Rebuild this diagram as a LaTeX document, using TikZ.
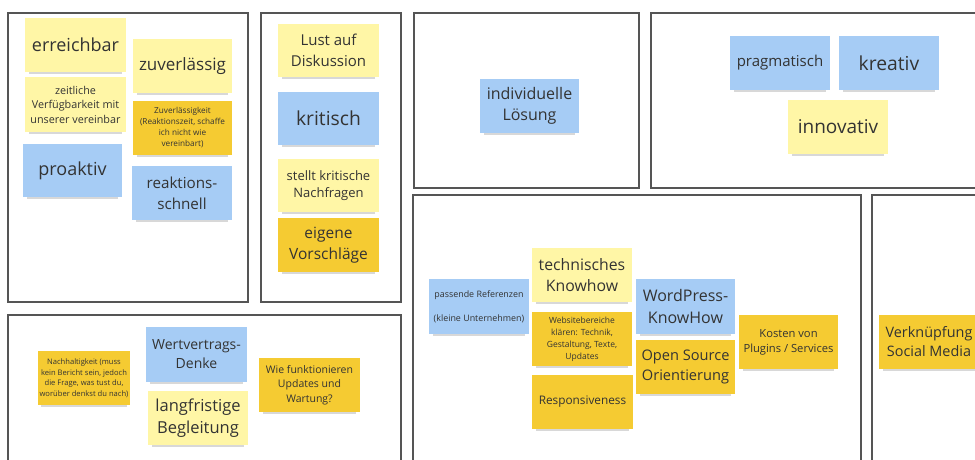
\documentclass[tikz,border=0pt]{standalone}
\usepackage{fontspec}
\setmainfont{Open Sans}
\usetikzlibrary{shadows}
\definecolor{ly}{HTML}{FFF6A6}
\definecolor{dy}{HTML}{F5CB32}
\definecolor{bl}{HTML}{A6CCF5}
\definecolor{frm}{HTML}{555555}
\definecolor{txt}{HTML}{333333}
\tikzset{
  frame/.style={draw=frm, line width=1.3pt},
  note/.style={rectangle, inner sep=2pt, align=center, text=txt,
    drop shadow={shadow xshift=0pt, shadow yshift=-5pt, opacity=.3, shadow scale=0.92}},
}
\newcommand\stickynote[9]{%
  \node[note, fill=#6, minimum width={#4pt-#2pt}, minimum height={#5pt-#3pt},
    font=\fontsize{#7}{#8}\selectfont]
    (#1) at ({(#2+#4)/2},{(#3+#5)/2}) {#9};}
\begin{document}
\begin{tikzpicture}[x=1pt,y=-1pt]
\useasboundingbox (0,0) rectangle (975,459);
\clip (0,0) rectangle (975,459);
\fill[white] (0,0) rectangle (975,459);
% frames
\draw[frame] (8,13) rectangle (248,302);
\draw[frame] (261,13) rectangle (401,302);
\draw[frame] (8,315) rectangle (401,470);
\draw[frame] (414,13) rectangle (639,188);
\draw[frame] (651,13) rectangle (990,188);
\draw[frame] (413,195) rectangle (861,470);
\draw[frame] (872,195) rectangle (990,470);
% frame 1
\stickynote{erreichbar}{25}{18}{126}{72}{ly}{18}{24}{erreichbar}
\stickynote{zeitlich}{25}{77}{126}{132}{ly}{10.8}{14.5}{zeitliche\\Verfügbarkeit mit\\unserer vereinbar}
\stickynote{zuverl}{133}{39}{232}{93}{ly}{17}{23}{zuverlässig}
\stickynote{zuverlk}{133}{101}{232}{155}{dy}{8.2}{11}{Zuverlässigkeit\\(Reaktionszeit, schaffe\\ich nicht wie\\vereinbart)}
\stickynote{proaktiv}{23}{144}{122}{197}{bl}{18}{24}{proaktiv}
\stickynote{reaktion}{132}{166}{232}{220}{bl}{15.2}{21}{reaktions-\\schnell}
% frame 2
\stickynote{lust}{278}{24}{379}{77}{ly}{15}{20.5}{Lust auf\\Diskussion}
\stickynote{kritisch}{278}{92}{379}{145}{bl}{19.3}{25}{kritisch}
\stickynote{nachfragen}{278}{159}{379}{212}{ly}{13}{17.5}{stellt kritische\\Nachfragen}
\stickynote{vorschlaege}{278}{218}{379}{272}{dy}{15.5}{21}{eigene\\Vorschläge}
% frame 3
\stickynote{nachhalt}{38}{351}{130}{405}{dy}{7.6}{10.5}{Nachhaltigkeit (muss\\kein Bericht sein, jedoch\\die Frage, was tust du,\\worüber denkst du nach)}
\stickynote{wert}{146}{327}{247}{382}{bl}{14}{19}{Wertvertrags-\\Denke}
\stickynote{langfr}{148}{391}{248}{445}{ly}{16.5}{22.5}{langfristige\\Begleitung}
\stickynote{updates}{259}{358}{360}{412}{dy}{10.5}{14.5}{Wie funktionieren\\Updates und\\Wartung?}
% frame 4 and 5
\stickynote{indiv}{480}{79}{579}{133}{bl}{16}{21.5}{individuelle\\Lösung}
\stickynote{pragm}{730}{36}{830}{90}{bl}{15}{20}{pragmatisch}
\stickynote{kreativ}{839}{36}{939}{90}{bl}{19.3}{25}{kreativ}
\stickynote{innov}{788}{100}{888}{154}{ly}{19}{25}{innovativ}
% frame 6
\stickynote{refs}{429}{279}{529}{334}{bl}{8.9}{12}{passende Referenzen\\[12pt](kleine Unternehmen)}
\stickynote{technisch}{532}{248}{632}{302}{ly}{15.8}{21.5}{technisches\\Knowhow}
\stickynote{website}{532}{312}{632}{366}{dy}{8.5}{12}{Websitebereiche\\klären: Technik,\\Gestaltung, Texte,\\Updates}
\stickynote{respons}{532}{375}{633}{429}{dy}{11.8}{16}{Responsiveness}
\stickynote{wordpress}{636}{279}{735}{334}{bl}{16}{22}{WordPress-\\KnowHow}
\stickynote{opensource}{636}{340}{735}{394}{dy}{14.6}{20}{Open Source\\Orientierung}
\stickynote{kosten}{739}{315}{838}{369}{dy}{11.2}{15}{Kosten von\\Plugins / Services}
% frame 7
\stickynote{social}{879}{315}{979}{369}{dy}{14.4}{19}{Verknüpfung\\Social Media}
\end{tikzpicture}
\end{document}
